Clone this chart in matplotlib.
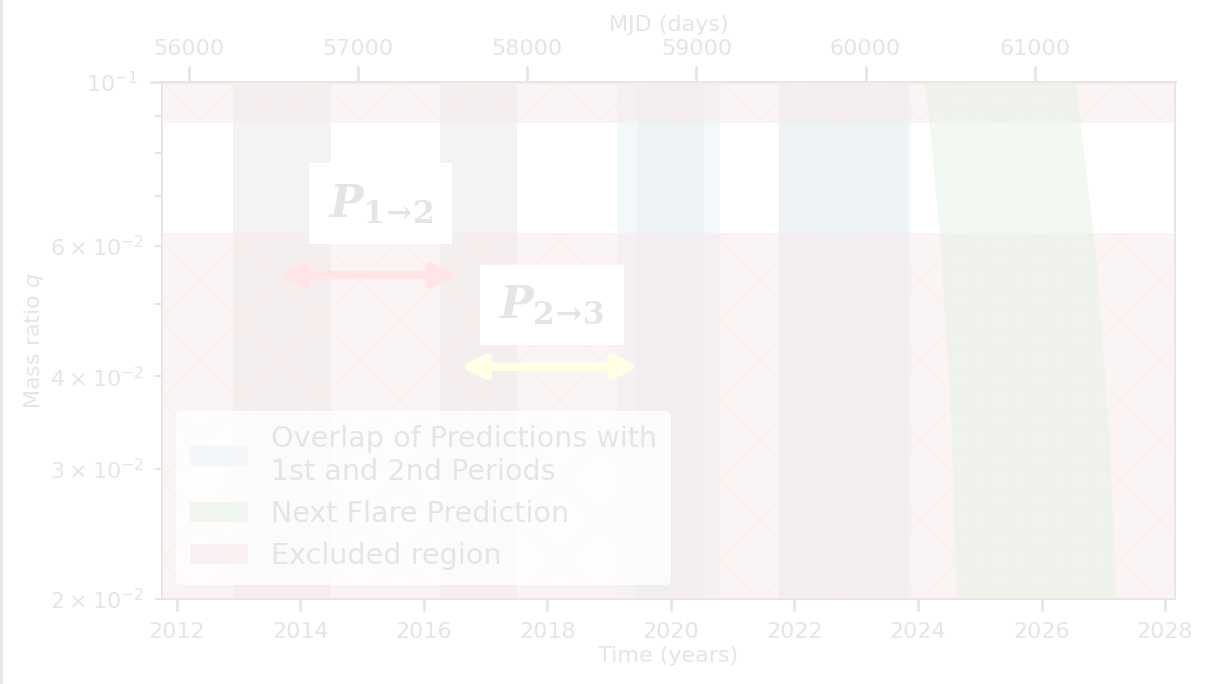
import matplotlib
matplotlib.use("Agg")
import matplotlib.pyplot as plt
from matplotlib.patches import Rectangle

# Observed flare epochs (decimal years)
flare_start = [2012.91, 2016.26, 2019.45, 2021.75]
flare_end = [2014.49, 2017.50, 2020.53, 2023.83]

# Overlap of period-based predictions with the observed flares
overlap_start = [2019.12, 2021.75]
overlap_end = [2020.80, 2023.88]

# Allowed mass-ratio window; outside it is excluded
q_allowed_low = 0.0624
q_allowed_high = 0.0879
q_min, q_max = 0.02, 0.1

# Next flare window as a function of mass ratio
next_q = [0.02, 0.0349, 0.0557, 0.0624, 0.0879, 0.1]
next_early = [2024.63, 2024.54, 2024.39, 2024.35, 2024.19, 2024.11]
next_late = [2027.22, 2027.08, 2026.90, 2026.84, 2026.63, 2026.55]

# Period arrows: (start, end, q level)
p12_span = [2013.63, 2016.55]
p12_q = 0.0548
p23_span = [2016.58, 2019.49]
p23_q = 0.0412
p12_label_pos = (2015.30, 0.0684)
p23_label_pos = (2018.07, 0.0499)

mjd_ticks = [56000, 57000, 58000, 59000, 60000, 61000]
year_ticks = [2012, 2014, 2016, 2018, 2020, 2022, 2024, 2026, 2028]

# bold serif maths for the period labels
plt.rcParams["mathtext.fontset"] = "custom"
plt.rcParams["mathtext.it"] = "DejaVu Serif:italic:bold"
plt.rcParams["mathtext.rm"] = "DejaVu Serif:bold"
plt.rcParams["mathtext.bf"] = "DejaVu Serif:bold"
plt.rcParams["hatch.linewidth"] = 0.5

DPI = 240
fig = plt.figure(figsize=(1208 / DPI, 684 / DPI), dpi=DPI)
ax = fig.add_axes([0.1339, 0.1243, 0.9727 - 0.1339, 0.8806 - 0.1243])

fs = 6.7

for s, e in zip(flare_start, flare_end):
    ax.axvspan(s, e, color="gray", alpha=0.9, lw=0, zorder=1)

overlap_handle = None
for s, e in zip(overlap_start, overlap_end):
    overlap_handle = ax.axvspan(s, e, color="tab:blue", alpha=0.5, lw=0, zorder=2)

excl_kw = dict(facecolor=(0.68, 0.16, 0.16, 0.5), edgecolor=(0.8, 0.3, 0.3, 0.45),
               hatch="x", lw=0, zorder=3)
excl_handle = ax.axhspan(q_min, q_allowed_low, **excl_kw)
ax.axhspan(q_allowed_high, q_max, **excl_kw)

next_handle = ax.fill_betweenx(next_q, next_early, next_late, facecolor=(0, 0.5, 0, 0.5),
                               edgecolor=(0, 0.5, 0, 0.15), hatch="++", lw=0, zorder=4)

arrow_kw = dict(arrowstyle="<|-|>,head_length=0.55,head_width=0.27", lw=2.6,
                shrinkA=0, shrinkB=0, mutation_scale=10)
ax.annotate("", xy=(p12_span[0], p12_q), xytext=(p12_span[1], p12_q),
            arrowprops=dict(color="red", **arrow_kw), zorder=5)
ax.annotate("", xy=(p23_span[0], p23_q), xytext=(p23_span[1], p23_q),
            arrowprops=dict(color="yellow", **arrow_kw), zorder=5)

box = dict(boxstyle="square,pad=0.42", fc="white", ec="none")
ax.text(*p12_label_pos, r"$P_{\mathrm{1}\!\rightarrow\!\mathrm{2}}$", fontsize=13.4,
        math_fontfamily="custom", ha="center", va="center", bbox=box, zorder=6)
ax.text(*p23_label_pos, r"$P_{\mathrm{2}\!\rightarrow\!\mathrm{3}}$", fontsize=13.4,
        math_fontfamily="custom", ha="center", va="center", bbox=box, zorder=6)

ax.set_yscale("log")
ax.set_ylim(q_min, q_max)
ax.set_xlim(2011.757, 2028.16)
ax.set_xticks(year_ticks)
ax.tick_params(axis="both", which="both", labelsize=fs)
ax.set_xlabel("Time (years)", fontsize=fs, labelpad=1)
ax.set_ylabel(r"Mass ratio $q$", fontsize=fs, labelpad=1.2, math_fontfamily="dejavusans")
for sp in ax.spines.values():
    sp.set_linewidth(0.6)


def year_to_mjd(y):
    return 51544.5 + (y - 2000.0) * 365.25


def mjd_to_year(m):
    return 2000.0 + (m - 51544.5) / 365.25


top = ax.secondary_xaxis("top", functions=(year_to_mjd, mjd_to_year))
top.set_xticks(mjd_ticks)
top.tick_params(labelsize=fs, length=4.8, pad=2)
top.set_xlabel("MJD (days)", fontsize=fs, labelpad=2.5)

leg = ax.legend([overlap_handle, next_handle, excl_handle],
                ["Overlap of Predictions with\n1st and 2nd Periods",
                 "Next Flare Prediction", "Excluded region"],
                loc="lower left", fontsize=8.6, framealpha=0.8, edgecolor="none",
                borderpad=0.5)
leg.set_zorder(10)

# thin border strip on the left edge of the canvas
fig.add_artist(Rectangle((0, 0), 3.3 / 1208, 1, transform=fig.transFigure,
                         color="0.1", lw=0, zorder=50))
# pale wash over the whole figure
fig.add_artist(Rectangle((0, 0), 1, 1, transform=fig.transFigure,
                         color="white", alpha=0.9, lw=0, zorder=100))

fig.savefig("out.png", dpi=DPI)
